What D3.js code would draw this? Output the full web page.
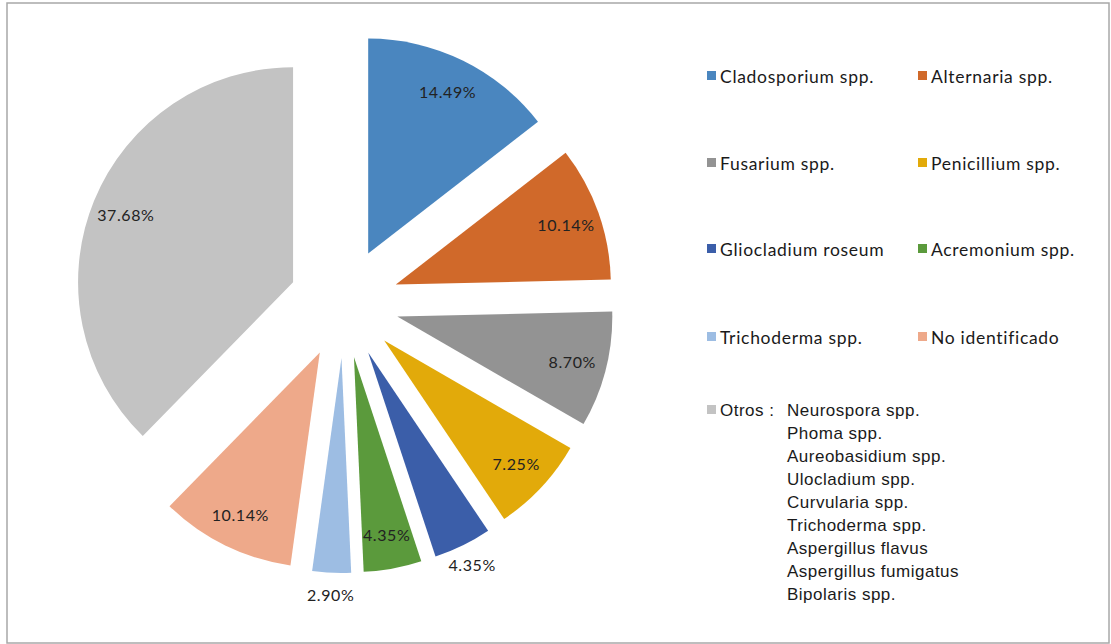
<!DOCTYPE html>
<html>
<head>
<meta charset="utf-8">
<script src="https://cdn.jsdelivr.net/npm/d3@7"></script>
<style>
  html, body { margin: 0; padding: 0; background: #fff; }
  svg { display: block; }
</style>
</head>
<body>
<svg id="chart" width="1111" height="644"></svg>
<script>
const categories = ["Cladosporium spp.", "Alternaria spp.", "Fusarium spp.", "Penicillium spp.",
  "Gliocladium roseum", "Acremonium spp.", "Trichoderma spp.", "No identificado", "Otros :"];
const values = [14.49, 10.14, 8.70, 7.25, 4.35, 4.35, 2.90, 10.14, 37.68];
const colors = ["#4a86bf", "#d0692a", "#939393", "#e2aa0a", "#3b5ea9", "#5b9a3c", "#9dbde3", "#eea98a", "#c3c3c3"];
const otrosList = ["Neurospora spp.", "Phoma spp.", "Aureobasidium spp.", "Ulocladium spp.", "Curvularia spp.",
  "Trichoderma spp.", "Aspergillus flavus", "Aspergillus fumigatus", "Bipolaris spp."];

const data = categories.map((c, i) => ({ name: c, value: values[i], color: colors[i] }));

const svg = d3.select("#chart");

// frame
svg.append("rect").attr("x", 7).attr("y", 3).attr("width", 1102).attr("height", 640)
  .attr("fill", "#fff").attr("stroke", "#a8a8a8").attr("stroke-width", 1.5);

const cx = 344, cy = 303, r = 215, explode = 55;
const outsideLabels = new Set([4, 6]);

const pie = d3.pie().sort(null).value(d => d.value);
const arc = d3.arc().innerRadius(0).outerRadius(r);
const arcs = pie(data);

const g = svg.append("g").attr("transform", `translate(${cx},${cy})`);

const slices = g.selectAll("g.slice").data(arcs).join("g")
  .attr("class", "slice")
  .attr("transform", d => {
    const a = (d.startAngle + d.endAngle) / 2;
    return `translate(${Math.sin(a) * explode},${-Math.cos(a) * explode})`;
  });

slices.append("path").attr("d", arc).attr("fill", d => d.data.color);

slices.append("text")
  .attr("x", (d, i) => {
    const a = (d.startAngle + d.endAngle) / 2;
    const lr = outsideLabels.has(i) ? r * 1.1 : r * 0.84;
    return Math.sin(a) * lr;
  })
  .attr("y", (d, i) => {
    const a = (d.startAngle + d.endAngle) / 2;
    const lr = outsideLabels.has(i) ? r * 1.1 : r * 0.84;
    return -Math.cos(a) * lr;
  })
  .attr("text-anchor", "middle")
  .attr("dominant-baseline", "central")
  .attr("font-family", "Lato, 'Open Sans', sans-serif")
  .attr("font-size", 16)
  .attr("letter-spacing", 0.6)
  .attr("fill", "#222")
  .text(d => d.data.value.toFixed(2) + "%");

// legend
const colX = [708, 919];
const rowY = [76, 163, 249, 337, 410];
const legend = svg.append("g");
data.forEach((d, i) => {
  const col = i < 8 ? i % 2 : 0;
  const row = Math.floor(i / 2);
  const x = colX[col], y = rowY[row];
  legend.append("rect").attr("x", x - 1).attr("y", y - 5).attr("width", 9).attr("height", 9).attr("fill", d.color);
  legend.append("text").attr("x", x + 12).attr("y", y)
    .attr("dominant-baseline", "central")
    .attr("font-family", i === 8 ? "'Liberation Sans', Arial, sans-serif" : "Lato, 'Open Sans', sans-serif")
    .attr("font-size", i === 8 ? 17 : 17.5)
    .attr("letter-spacing", i === 8 ? 0.5 : 0.7)
    .attr("fill", "#1a1a1a")
    .text(d.name);
});

legend.selectAll("text.otros").data(otrosList).join("text")
  .attr("class", "otros")
  .attr("x", 787)
  .attr("y", (d, i) => 410 + i * 23.1)
  .attr("dominant-baseline", "central")
  .attr("font-family", "'Liberation Sans', Arial, sans-serif")
  .attr("font-size", 17)
  .attr("letter-spacing", 0.5)
  .attr("fill", "#1a1a1a")
  .text(d => d);
</script>
</body>
</html>
